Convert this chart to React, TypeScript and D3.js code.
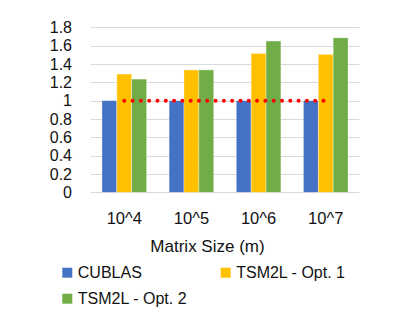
import React from "react";
import * as d3 from "d3";

const categories = ["10^4", "10^5", "10^6", "10^7"];
const seriesNames = ["CUBLAS", "TSM2L - Opt. 1", "TSM2L - Opt. 2"];
const cublas = [1.0, 1.0, 1.0, 1.0];
const opt1 = [1.29, 1.335, 1.515, 1.505];
const opt2 = [1.235, 1.335, 1.65, 1.685];
const baseline = [1, 1, 1, 1];
const yTicks = [0, 0.2, 0.4, 0.6, 0.8, 1, 1.2, 1.4, 1.6, 1.8];
const colors = ["#4472C4", "#FFC000", "#70AD47"];

const W = 415;
const H = 313;
const FONT = "'Liberation Sans', Arial, sans-serif";

export default function App() {
  const series = [cublas, opt1, opt2];
  const x = d3
    .scaleBand<string>()
    .domain(categories)
    .range([90.7, 359.3])
    .paddingInner(0.335)
    .paddingOuter(0.1675);
  const xs = d3
    .scaleBand<number>()
    .domain([0, 1, 2])
    .range([0, x.bandwidth()]);
  const y = d3.scaleLinear().domain([0, 1.8]).range([192.3, 27.3]);

  const line = d3
    .line<number>()
    .x((_, i) => (x(categories[i]) as number) + x.bandwidth() / 2)
    .y((d) => y(d));

  const fmt = (v: number) => (Math.round(v * 10) / 10).toString();

  return (
    <svg
      width={W}
      height={H}
      style={{ position: "absolute", left: 0, top: 0, background: "#fff" }}
      fontFamily={FONT}
    >
      {yTicks.map((t) => (
        <g key={t}>
          <line
            x1={90.7}
            x2={359.3}
            y1={Math.round(y(t)) + 0.5}
            y2={Math.round(y(t)) + 0.5}
            stroke="#d9d9d9"
            strokeWidth={1}
          />
          <text
            x={72}
            y={y(t)}
            dy="0.36em"
            textAnchor="end"
            fontSize={16}
            fill="#111"
          >
            {fmt(t)}
          </text>
        </g>
      ))}
      {categories.map((c, ci) =>
        series.map((s, si) => (
          <rect
            key={c + si}
            x={(x(c) as number) + (xs(si) as number)}
            y={y(s[ci])}
            width={xs.bandwidth()}
            height={y(0) - y(s[ci])}
            fill={colors[si]}
            stroke="#ffffff"
            strokeOpacity={0.5}
            strokeWidth={0.7}
          />
        ))
      )}
      <path
        d={line(baseline) || ""}
        fill="none"
        stroke="#FF0000"
        strokeWidth={4}
        strokeLinecap="round"
        strokeDasharray="0 8.3"
      />
      {categories.map((c) => (
        <text
          key={c}
          x={(x(c) as number) + x.bandwidth() / 2}
          y={224}
          textAnchor="middle"
          fontSize={16.5}
          fill="#111"
        >
          {c}
        </text>
      ))}
      <text x={207.5} y={252} textAnchor="middle" fontSize={17} fill="#111">
        Matrix Size (m)
      </text>
      {seriesNames.map((n, i) => {
        const lx = i === 1 ? 220.7 : 62.3;
        const ly = i === 2 ? 293.7 : 267.7;
        return (
          <g key={n}>
            <rect x={lx} y={ly} width={10} height={10} fill={colors[i]} />
            <text x={lx + 15.5} y={ly + 10.5} fontSize={16} fill="#111">
              {n}
            </text>
          </g>
        );
      })}
    </svg>
  );
}
